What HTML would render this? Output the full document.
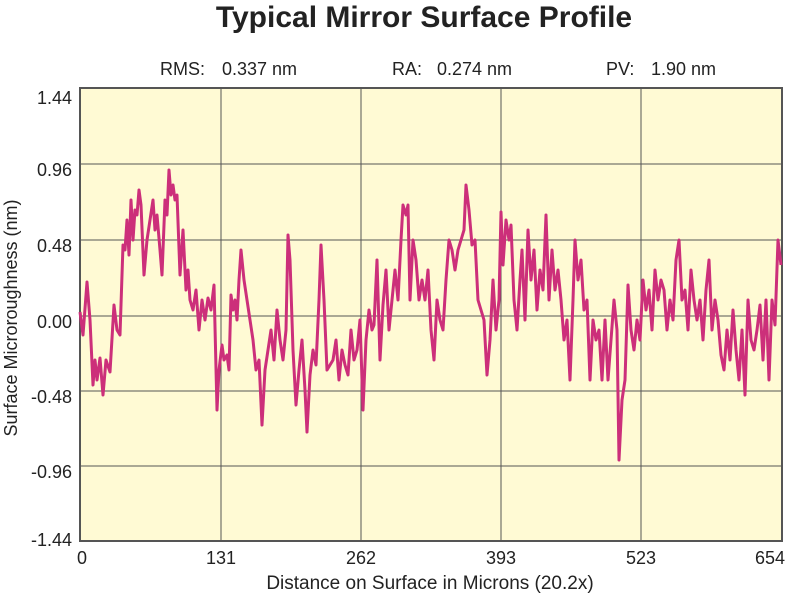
<!DOCTYPE html>
<html><head><meta charset="utf-8"><style>
body{margin:0;background:#fff;width:800px;height:600px;overflow:hidden}
svg{display:block;font-family:"Liberation Sans",sans-serif}
</style></head><body>
<svg width="800" height="600" viewBox="0 0 800 600">
<text x="424" y="27" font-size="30" font-weight="bold" text-anchor="middle" fill="#222">Typical Mirror Surface Profile</text>
<g font-size="18" fill="#222">
<text x="160" y="75">RMS:</text><text x="222" y="75">0.337 nm</text>
<text x="392" y="75">RA:</text><text x="437" y="75">0.274 nm</text>
<text x="606" y="75">PV:</text><text x="651" y="75">1.90 nm</text>
</g>
<rect x="80" y="88" width="702" height="453" fill="#fffad4" stroke="#555" stroke-width="2"/>
<g stroke="#555" stroke-width="1">
<line x1="81" y1="164" x2="781" y2="164"/><line x1="81" y1="240" x2="781" y2="240"/>
<line x1="81" y1="316" x2="781" y2="316"/><line x1="81" y1="391" x2="781" y2="391"/>
<line x1="81" y1="466" x2="781" y2="466"/>
<line x1="221" y1="89" x2="221" y2="540"/><line x1="361" y1="89" x2="361" y2="540"/>
<line x1="501" y1="89" x2="501" y2="540"/><line x1="641" y1="89" x2="641" y2="540"/>
</g>
<g font-size="18" fill="#222" text-anchor="end">
<text x="72" y="104">1.44</text><text x="72" y="176">0.96</text><text x="72" y="252">0.48</text>
<text x="72" y="328">0.00</text><text x="72" y="403">-0.48</text><text x="72" y="478">-0.96</text><text x="72" y="546">-1.44</text>
</g>
<g font-size="18" fill="#222" text-anchor="middle">
<text x="82" y="564">0</text><text x="221" y="564">131</text><text x="361" y="564">262</text>
<text x="501" y="564">393</text><text x="641" y="564">523</text><text x="770" y="564">654</text>
</g>
<text x="430" y="589" font-size="19" fill="#222" text-anchor="middle">Distance on Surface in Microns (20.2x)</text>
<text transform="translate(17,318) rotate(-90)" font-size="18" fill="#222" text-anchor="middle">Surface Microroughness (nm)</text>
<polyline fill="none" stroke="#cc2f7a" stroke-width="3" stroke-linejoin="round" points="80,312 83,335 87,282 90,320 93,385 95,360 97,380 100,358 103,395 106,360 110,372 114,305 117,330 120,335 123,245 125,250 127,220 129,255 131,200 133,240 135,210 137,215 139,190 141,205 144,275 147,240 150,220 153,200 155,230 157,215 160,250 162,275 165,200 167,215 169,170 171,195 173,185 175,200 177,195 180,275 183,230 186,290 188,270 190,300 193,310 196,290 199,330 202,300 205,320 208,298 211,310 214,285 217,410 219,370 222,345 224,360 227,355 229,370 231,295 233,310 235,300 237,320 239,280 241,250 244,280 247,300 250,320 253,340 256,370 259,360 262,425 265,370 268,350 271,330 274,360 277,310 280,340 283,360 286,330 288,235 290,260 293,350 296,405 299,370 302,340 305,390 307,432 310,375 313,350 316,365 319,300 321,245 324,300 327,370 330,365 333,360 336,340 339,380 342,350 345,365 348,375 351,330 354,360 357,350 360,320 363,410 366,340 369,310 372,330 374,325 377,260 380,360 383,305 386,270 389,330 392,300 395,270 398,300 401,240 403,205 406,215 408,205 410,300 413,240 416,260 419,300 422,280 425,300 428,270 431,330 434,360 437,300 440,320 443,330 446,280 449,240 452,250 455,270 458,250 461,240 464,230 466,185 469,210 472,245 475,240 478,300 481,310 484,320 487,375 490,340 493,280 496,330 499,300 501,212 503,265 506,220 509,240 511,225 514,300 517,330 520,280 522,250 525,320 528,230 531,280 534,250 537,310 540,270 543,290 546,215 549,300 552,250 555,290 558,270 561,300 564,340 567,320 570,380 573,300 575,240 578,280 581,260 584,310 587,300 590,380 593,320 596,340 599,330 602,380 605,320 608,380 611,340 614,300 617,330 619,460 622,400 625,380 628,285 631,330 634,350 637,320 640,340 643,280 646,310 649,290 652,330 655,270 658,300 661,280 664,290 667,330 670,300 673,320 676,260 679,240 682,300 685,290 688,330 691,270 694,300 697,320 700,300 703,340 706,290 709,260 712,330 715,300 718,320 721,355 724,370 727,330 730,360 733,310 736,350 739,380 742,330 745,395 748,300 751,340 754,350 757,330 760,305 763,360 766,300 769,380 772,300 775,325 778,240 781,265"/>
</svg>
</body></html>
